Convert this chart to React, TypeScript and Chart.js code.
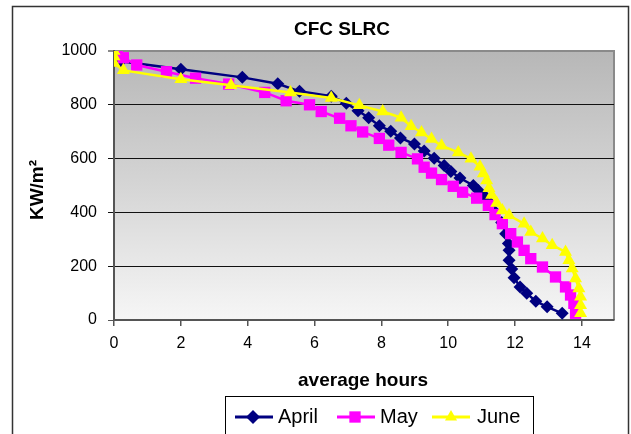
import React, { useEffect, useRef } from 'react';
import { Chart, registerables } from 'chart.js';

Chart.register(...registerables);

const TITLE = 'CFC SLRC';
const X_TITLE = 'average hours';
const Y_TITLE = 'KW/m²';
const SERIES_NAMES = ['April', 'May', 'June'];
const SERIES_COLORS = ['#000080', '#FF00FF', '#FFFF00'];
const SERIES_POINTS = ['rectRot', 'rect', 'triangle'];
const X_TICKS = [0, 2, 4, 6, 8, 10, 12, 14];
const Y_TICKS = [0, 200, 400, 600, 800, 1000];

const aprilX = [0, 0.2, 2.0, 3.84, 4.9, 5.55, 6.5, 6.95, 7.3, 7.62, 7.94, 8.28, 8.57, 8.99, 9.28, 9.58, 9.88, 10.08, 10.35, 10.75, 10.9, 11.1, 11.28, 11.42, 11.6, 11.72, 11.8, 11.82, 11.82, 11.9, 11.97, 12.15, 12.35, 12.62, 12.96, 13.41];
const aprilY = [1000, 962, 932, 902, 878, 850, 832, 806, 778, 752, 722, 702, 677, 654, 628, 601, 574, 552, 528, 500, 481, 460, 432, 400, 362, 321, 284, 259, 222, 190, 157, 123, 99, 70, 49, 25];

const mayX = [0.05, 0.1, 0.28, 0.68, 1.57, 2.44, 3.43, 4.51, 5.15, 5.85, 6.2, 6.75, 7.09, 7.44, 7.94, 8.22, 8.59, 9.08, 9.28, 9.5, 9.8, 10.15, 10.43, 10.85, 11.2, 11.4, 11.62, 11.87, 12.07, 12.27, 12.47, 12.82, 13.21, 13.51, 13.66, 13.76, 13.81];
const mayY = [1000, 985, 975, 948, 923, 899, 877, 846, 815, 800, 775, 750, 722, 699, 675, 650, 623, 599, 568, 546, 522, 497, 475, 453, 426, 392, 358, 321, 290, 259, 228, 197, 160, 123, 93, 62, 25];

const juneX = [0, 0, 0, 0.28, 2.0, 3.5, 5.28, 6.5, 7.34, 8.04, 8.59, 8.89, 9.2, 9.5, 9.8, 10.3, 10.68, 10.95, 11.05, 11.15, 11.22, 11.3, 11.45, 11.62, 11.82, 12.27, 12.47, 12.82, 13.11, 13.51, 13.61, 13.71, 13.81, 13.91, 13.96, 13.96, 13.96];
const juneY = [1000, 980, 955, 928, 895, 873, 846, 825, 798, 775, 752, 720, 697, 673, 648, 623, 599, 570, 545, 519, 490, 465, 435, 407, 389, 358, 327, 303, 278, 253, 222, 191, 154, 117, 86, 55, 25];

const FONT = '"Liberation Sans", Arial, sans-serif';

function toPoints(xs: number[], ys: number[]) {
  return xs.map((x, i) => ({ x, y: ys[i] }));
}

function drawMarker(ctx: CanvasRenderingContext2D, style: string, x: number, y: number, r: number, color: string) {
  ctx.save();
  ctx.fillStyle = color;
  ctx.beginPath();
  if (style === 'rectRot') {
    ctx.moveTo(x, y - r);
    ctx.lineTo(x + r, y);
    ctx.lineTo(x, y + r);
    ctx.lineTo(x - r, y);
  } else if (style === 'rect') {
    const s = r * Math.SQRT1_2;
    ctx.rect(x - s, y - s, 2 * s, 2 * s);
  } else {
    ctx.moveTo(x, y - r);
    ctx.lineTo(x + r * 0.866, y + r * 0.5);
    ctx.lineTo(x - r * 0.866, y + r * 0.5);
  }
  ctx.closePath();
  ctx.fill();
  ctx.restore();
}

const decorPlugin = {
  id: 'decor',
  beforeDraw(chart: any) {
    const { ctx, chartArea: a, width, height } = chart;
    ctx.save();
    ctx.fillStyle = '#ffffff';
    ctx.fillRect(0, 0, width, height);
    const g = ctx.createLinearGradient(0, a.top, 0, a.bottom);
    g.addColorStop(0, '#b7b7b7');
    g.addColorStop(0.5, '#d5d5d5');
    g.addColorStop(1, '#f6f6f6');
    ctx.fillStyle = g;
    ctx.fillRect(a.left, a.top, a.right - a.left, a.bottom - a.top);
    ctx.strokeStyle = '#8a8a8a';
    ctx.lineWidth = 2;
    ctx.beginPath();
    ctx.moveTo(a.left, a.top);
    ctx.lineTo(a.right, a.top);
    ctx.lineTo(a.right, a.bottom);
    ctx.stroke();
    ctx.restore();
  },
  afterDraw(chart: any) {
    const { ctx } = chart;
    ctx.save();
    // outer frame
    ctx.strokeStyle = '#333333';
    ctx.lineWidth = 1.5;
    ctx.strokeRect(12.5, 6.5, 616, 440);
    // title
    ctx.fillStyle = '#000';
    ctx.textAlign = 'center';
    ctx.textBaseline = 'middle';
    ctx.font = `bold 19px ${FONT}`;
    ctx.fillText(TITLE, 342, 30);
    // x title
    ctx.font = `bold 19px ${FONT}`;
    ctx.fillText(X_TITLE, 363, 381);
    // y title
    ctx.save();
    ctx.translate(38, 190);
    ctx.rotate(-Math.PI / 2);
    ctx.fillText(Y_TITLE, 0, 0);
    ctx.restore();
    // legend box
    ctx.strokeStyle = '#000';
    ctx.lineWidth = 1;
    ctx.strokeRect(225.5, 396.5, 308, 50);
    const items = [
      { lx: 235, mx: 253, tx: 278 },
      { lx: 337, mx: 355, tx: 380 },
      { lx: 432, mx: 451, tx: 477 },
    ];
    const ly = 417;
    ctx.font = `20px ${FONT}`;
    ctx.textAlign = 'left';
    items.forEach((it, i) => {
      const c = SERIES_COLORS[i];
      ctx.strokeStyle = c;
      ctx.lineWidth = 3;
      ctx.beginPath();
      ctx.moveTo(it.lx, ly);
      ctx.lineTo(it.lx + 38, ly);
      ctx.stroke();
      drawMarker(ctx, SERIES_POINTS[i], it.mx, ly, i === 1 ? 8 : 7, c);
      ctx.fillStyle = '#000';
      ctx.fillText(SERIES_NAMES[i], it.tx, ly);
    });
    ctx.restore();
  },
};

export default function App() {
  const ref = useRef<HTMLCanvasElement | null>(null);
  useEffect(() => {
    document.body.style.margin = '0';
    const canvas = ref.current;
    if (!canvas) return;
    const datasets = [
      { xs: aprilX, ys: aprilY },
      { xs: mayX, ys: mayY },
      { xs: juneX, ys: juneY },
    ].map((s, i) => ({
      label: SERIES_NAMES[i],
      data: toPoints(s.xs, s.ys),
      borderColor: SERIES_COLORS[i],
      backgroundColor: SERIES_COLORS[i],
      pointBackgroundColor: SERIES_COLORS[i],
      pointBorderColor: SERIES_COLORS[i],
      pointBorderWidth: 0,
      pointStyle: SERIES_POINTS[i],
      pointRadius: i === 0 ? 6.5 : i === 1 ? 8 : 7.5,
      borderWidth: 2.5,
      tension: 0,
      order: 3 - i,
    }));
    const chart = new Chart(canvas, {
      type: 'line',
      data: { datasets },
      options: {
        animation: false,
        responsive: true,
        maintainAspectRatio: false,
        layout: { padding: { top: 51, right: 17, bottom: 84, left: 0 } },
        plugins: {
          legend: { display: false },
          title: { display: false },
          tooltip: { enabled: false },
        },
        scales: {
          x: {
            type: 'linear',
            min: 0,
            max: 14.96,
            afterBuildTicks: (s: any) => {
              s.ticks = X_TICKS.map((v) => ({ value: v }));
            },
            afterFit: (s: any) => {
              s.height = 30;
            },
            grid: {
              drawOnChartArea: false,
              drawTicks: true,
              tickLength: 6,
              color: '#555555',
              lineWidth: 1.5,
            },
            border: { display: true, color: '#555555', width: 2 },
            ticks: {
              color: '#000',
              font: { family: FONT, size: 16 },
              padding: 8,
              maxRotation: 0,
              callback: (v: any) => String(v),
            },
          },
          y: {
            type: 'linear',
            min: 0,
            max: 1000,
            afterBuildTicks: (s: any) => {
              s.ticks = Y_TICKS.map((v) => ({ value: v }));
            },
            afterFit: (s: any) => {
              s.width = 114;
            },
            grid: {
              drawTicks: true,
              tickLength: 6,
              color: (c: any) => (c.tick && c.tick.value === 1000 ? '#8a8a8a' : c.tick && c.tick.value === 0 ? '#555555' : '#111111'),
              lineWidth: (c: any) => (c.tick && c.tick.value === 1000 ? 2 : 1),
            },
            border: { display: true, color: '#555555', width: 2 },
            ticks: {
              color: '#000',
              font: { family: FONT, size: 16 },
              padding: 11,
              callback: (v: any) => String(v),
            },
          },
        },
      },
      plugins: [decorPlugin],
    });
    return () => chart.destroy();
  }, []);
  return (
    <div style={{ width: 631, height: 434, position: 'relative' }}>
      <canvas ref={ref} />
    </div>
  );
}
